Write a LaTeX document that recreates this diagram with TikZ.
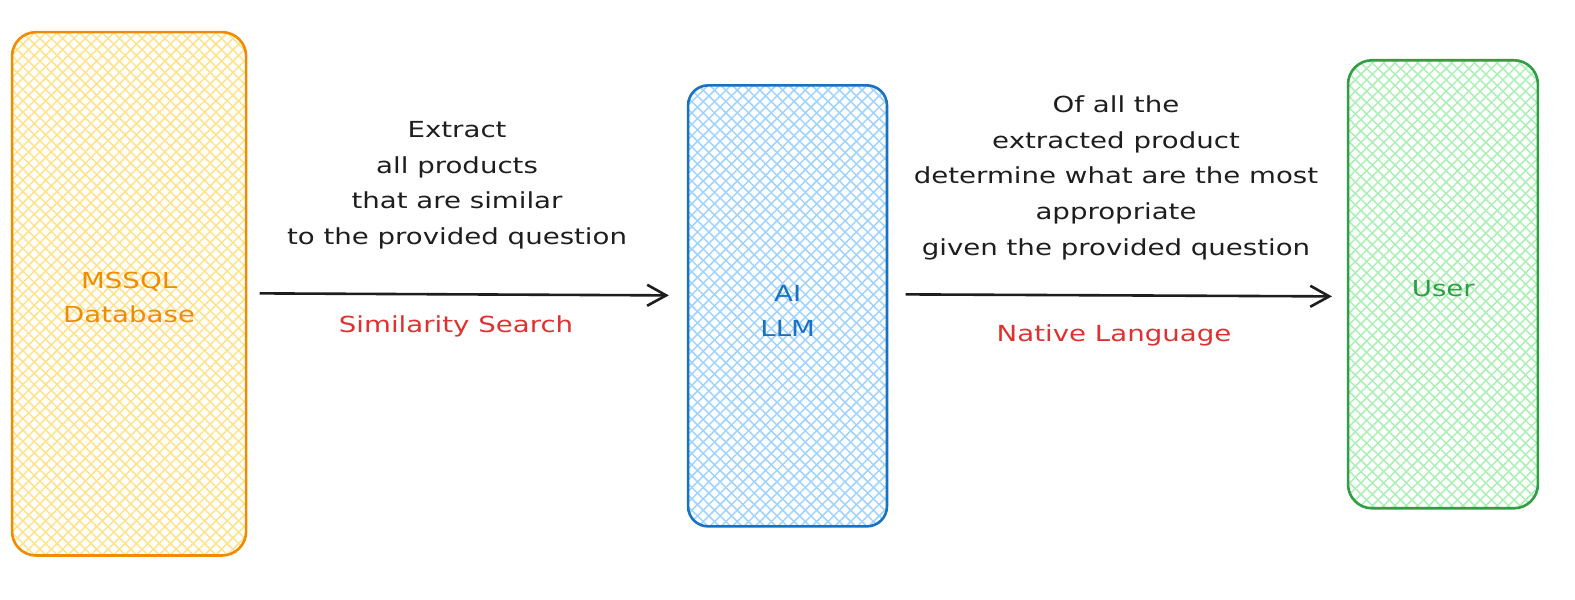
\documentclass[tikz,border=0pt]{standalone}
\usepackage{fontspec}
\newfontfamily\hand[FakeStretch=1.25]{DejaVu Sans}
\usetikzlibrary{arrows.meta}
\definecolor{ink}{HTML}{1E1E1E}
\definecolor{orangeS}{HTML}{F08C00}
\definecolor{orangeF}{HTML}{FFE38A}
\definecolor{blueS}{HTML}{1971C2}
\definecolor{blueF}{HTML}{A0D4FF}
\definecolor{greenS}{HTML}{2F9E44}
\definecolor{greenF}{HTML}{ABF0B5}
\definecolor{redT}{HTML}{E03131}
\tikzset{
  hatchfill/.style={path picture={
    \foreach \k in {0,...,80}{
      \draw[#1,line width=1.5bp] ([xshift=\k*11.3bp-600bp]path picture bounding box.south west) -- ++(650bp,650bp);
      \draw[#1,line width=1.5bp] ([xshift=\k*11.3bp-600bp]path picture bounding box.north west) -- ++(650bp,-650bp);
    }}},
  box/.style={draw, line width=2.6bp, inner sep=0bp},
  boxlbl/.style={align=center, font=\hand\fontsize{22bp}{34bp}\selectfont},
  txt/.style={align=center, text=ink, font=\hand\fontsize{22bp}{35.5bp}\selectfont},
  lbl/.style={text=redT, font=\hand\fontsize{22bp}{30bp}\selectfont},
  conn/.style={draw=ink, line width=2.6bp,
    -{Straight Barb[length=19bp,width=21bp,line width=2.6bp]}}
}
\begin{document}
\begin{tikzpicture}[x=1bp,y=-1bp]
\useasboundingbox[fill=white] (0,0) rectangle (1575,600);
\begin{scope}[scale=1.0045, transform shape]
\node[box, draw=orangeS, hatchfill=orangeF, rounded corners=24bp,
  minimum width=233bp, minimum height=521bp,
  label={[boxlbl,text=orangeS,yshift=-3.5bp]center:{MSSQL\\Database}}] (db) at (128.5,292.5) {};
\node[box, draw=blueS, hatchfill=blueF, rounded corners=20bp,
  minimum width=198bp, minimum height=439bp,
  label={[boxlbl,text=blueS,yshift=-5bp]center:{AI\\LLM}}] (llm) at (784,304.5) {};
\node[box, draw=greenS, hatchfill=greenF, rounded corners=24bp,
  minimum width=189bp, minimum height=446bp,
  label={[boxlbl,text=greenS,yshift=-4bp]center:{User}}] (user) at (1436.5,283) {};

\draw[conn] ([xshift=12bp,yshift=0.5bp]db.east) -- ([xshift=-18bp,yshift=10.5bp]llm.west);
\draw[conn] ([xshift=17bp,yshift=11.5bp]llm.east) -- ([xshift=-15bp,yshift=-12bp]user.west);

\node[txt] (t1) at (455,184.5) {Extract\\all products\\that are similar\\to the provided question};
\node[lbl] (l1) at (454,325) {Similarity Search};
\node[txt] (t2) at (1111,177) {Of all the\\extracted product\\determine what are the most\\appropriate\\given the provided question};
\node[lbl] (l2) at (1109,333.5) {Native Language};
\end{scope}
\end{tikzpicture}
\end{document}
